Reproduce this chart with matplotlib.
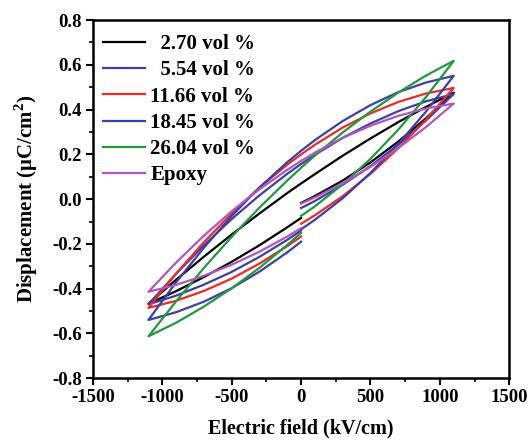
import numpy as np
import matplotlib

matplotlib.use('Agg')
import matplotlib.pyplot as plt
from matplotlib.ticker import MultipleLocator, FormatStrFormatter

plt.rcParams['font.family'] = ['Liberation Serif', 'DejaVu Serif']
plt.rcParams['font.weight'] = 'bold'
plt.rcParams['axes.unicode_minus'] = False
plt.rcParams['mathtext.fontset'] = 'custom'
plt.rcParams['mathtext.rm'] = 'Liberation Serif:bold'
plt.rcParams['mathtext.bf'] = 'Liberation Serif:bold'

# field points (kV/cm) for each part of the loop
E_upper = [1100, 900, 700, 500, 300, 100, 0, -100, -300, -500, -700, -900, -1100]
E_lower = [-1100, -900, -700, -500, -300, -100, 0]
E_init = [0, 100, 300, 500, 700, 900, 1100]

labels = ['  2.70 vol %', '  5.54 vol %', '11.66 vol %', '18.45 vol %', '26.04 vol %', 'Epoxy']
colors = ['#000000', '#3b3fa8', '#f02828', '#3b3fa8', '#1e9a3c', '#b255c0']

# displacement (uC/cm2)
init_2_70 = [-0.017, 0.014, 0.083, 0.164, 0.257, 0.361, 0.476]
upper_2_70 = [0.476, 0.412, 0.344, 0.271, 0.194, 0.112, 0.070, 0.027, -0.064, -0.158, -0.257, -0.360, -0.467]
lower_2_70 = [-0.467, -0.411, -0.348, -0.280, -0.206, -0.126, -0.084]

init_5_54 = [-0.040, -0.008, 0.064, 0.148, 0.243, 0.351, 0.470]
upper_5_54 = [0.470, 0.437, 0.393, 0.338, 0.274, 0.198, 0.157, 0.113, 0.017, -0.089, -0.206, -0.333, -0.470]
lower_5_54 = [-0.470, -0.431, -0.382, -0.325, -0.258, -0.182, -0.140]

init_11_66 = [-0.110, -0.072, 0.013, 0.113, 0.227, 0.355, 0.497]
upper_11_66 = [0.497, 0.472, 0.434, 0.383, 0.320, 0.243, 0.200, 0.154, 0.052, -0.064, -0.192, -0.332, -0.486]
lower_11_66 = [-0.486, -0.454, -0.410, -0.355, -0.288, -0.210, -0.167]

init_18_45 = [-0.135, -0.092, 0.004, 0.117, 0.246, 0.391, 0.551]
upper_18_45 = [0.551, 0.521, 0.478, 0.420, 0.349, 0.264, 0.216, 0.165, 0.052, -0.075, -0.217, -0.371, -0.540]
lower_18_45 = [-0.540, -0.505, -0.458, -0.398, -0.324, -0.238, -0.190]

init_26_04 = [-0.075, -0.032, 0.066, 0.180, 0.310, 0.456, 0.618]
upper_26_04 = [0.618, 0.552, 0.476, 0.391, 0.298, 0.195, 0.140, 0.083, -0.038, -0.168, -0.307, -0.456, -0.613]
lower_26_04 = [-0.613, -0.552, -0.480, -0.398, -0.307, -0.205, -0.150]

init_epoxy = [-0.020, 0.008, 0.071, 0.144, 0.228, 0.322, 0.427]
upper_epoxy = [0.427, 0.405, 0.372, 0.328, 0.274, 0.208, 0.171, 0.131, 0.044, -0.054, -0.163, -0.283, -0.414]
lower_epoxy = [-0.414, -0.383, -0.342, -0.293, -0.235, -0.167, -0.130]

loops = [
    (init_2_70, upper_2_70, lower_2_70),
    (init_5_54, upper_5_54, lower_5_54),
    (init_11_66, upper_11_66, lower_11_66),
    (init_18_45, upper_18_45, lower_18_45),
    (init_26_04, upper_26_04, lower_26_04),
    (init_epoxy, upper_epoxy, lower_epoxy),
]

fig = plt.figure(figsize=(5.31, 4.46), dpi=100)
ax = fig.add_axes([0.175, 0.152, 0.784, 0.803])

for (d_init, d_up, d_low), c, lab in zip(loops, colors, labels):
    E = np.concatenate([E_init, E_upper[1:], E_lower[1:]])
    D = np.concatenate([d_init, d_up[1:], d_low[1:]])
    ax.plot(E, D, color=c, lw=1.6, label=lab)

ax.set_xlim(-1500, 1500)
ax.set_ylim(-0.8, 0.8)
ax.xaxis.set_major_locator(MultipleLocator(500))
ax.xaxis.set_minor_locator(MultipleLocator(250))
ax.yaxis.set_major_locator(MultipleLocator(0.2))
ax.yaxis.set_minor_locator(MultipleLocator(0.1))
ax.yaxis.set_major_formatter(FormatStrFormatter('%.1f'))
ax.tick_params(which='major', direction='out', length=5, width=1.5, labelsize=13.5, pad=3)
ax.tick_params(which='minor', direction='out', length=3, width=1.2)
for s in ax.spines.values():
    s.set_linewidth(1.8)

ax.set_xlabel('Electric field (kV/cm)', fontsize=14.5, fontweight='bold', labelpad=9)
ax.set_ylabel(r'Displacement ($\mathrm{\mu}$C/cm$^{2}$)', fontsize=15, fontweight='bold', labelpad=9)

leg = ax.legend(loc='upper left', frameon=False, fontsize=15, handlelength=2.0,
                handletextpad=0.25, labelspacing=0.3, borderaxespad=0.1,
                bbox_to_anchor=(0.0, 0.99))
for line in leg.get_lines():
    line.set_linewidth(1.6)

fig.savefig('out.png', dpi=100)
